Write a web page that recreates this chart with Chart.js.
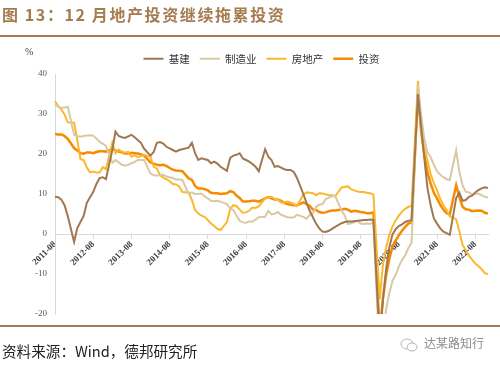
<!DOCTYPE html>
<html lang="zh">
<head>
<meta charset="UTF-8">
<title>12月地产投资继续拖累投资</title>
<script src="https://cdn.jsdelivr.net/npm/chart.js"></script>
<style>
  body { margin: 0; background: #fff; }
  #wrap { position: relative; width: 500px; height: 365px; overflow: hidden; font-family: "Noto Sans CJK SC", sans-serif; }
  #chart { position: absolute; left: 0; top: 0; }
  .title { position: absolute; left: 2px; top: 2px; font-size: 16px; font-weight: bold; color: #a57b50; letter-spacing: 1.6px; white-space: nowrap; line-height: 24px; }
  .rule { position: absolute; left: 0; width: 500px; height: 2px; background: #a57c5a; }
  .unit { position: absolute; left: 25px; top: 46px; font: 10px "Liberation Serif", serif; color: #404040; }
  .source { position: absolute; left: 2px; top: 341px; font-size: 14.6px; line-height: 20px; color: #222; white-space: nowrap; }
  .mark { position: absolute; left: 400px; top: 334px; font-size: 12px; line-height: 18px; color: #8c8c8c; white-space: nowrap; }
  .mark svg { vertical-align: middle; margin-right: 6px; }
</style>
</head>
<body>
<div id="wrap">
  <canvas id="chart" width="500" height="365"></canvas>
  <div class="title">图 13：12 月地产投资继续拖累投资</div>
  <div class="rule" style="top:35px"></div>
  <div class="unit">%</div>
  <div class="rule" style="top:325px"></div>
  <div class="source">资料来源：Wind，德邦研究所</div>
  <div class="mark"><svg width="18" height="14" viewBox="0 0 18 14"><ellipse cx="7" cy="6" rx="6" ry="5" fill="none" stroke="#b5b5b5" stroke-width="1"/><ellipse cx="12" cy="9" rx="5" ry="4" fill="#fff" stroke="#b5b5b5" stroke-width="1"/></svg>达某路知行</div>
</div>
<script>
// 月份：2011-08 至 2022-12，1月无数据（null）
const months = [];
for (let y = 2011; y <= 2022; y++) {
    for (let m = (y === 2011 ? 8 : 1); m <= 12; m++) {
        months.push(y + '-' + String(m).padStart(2, '0'));
    }
}

// 累计同比，%
const infra = [
    9.3, 9.2, 8.6, 7.2, 4.5,
    null, -2.0, 1.5, 3.0, 4.5, 7.8, 9.2, 10.5, 12.5, 14.0, 14.2, 13.7,
    null, 21.0, 25.6, 24.5, 24.2, 24.0, 24.4, 24.8, 24.2, 23.5, 22.8, 21.3,
    null, 19.6, 20.5, 22.8, 23.0, 22.6, 21.8, 21.4, 21.0, 20.6, 21.0, 21.2,
    null, 21.6, 22.8, 20.2, 18.5, 18.9, 18.7, 18.5, 17.7, 18.1, 17.6, 16.8,
    null, 15.8, 19.0, 19.6, 19.8, 20.2, 18.9, 18.5, 18.1, 17.5, 16.8, 15.7,
    null, 21.2, 19.3, 18.5, 16.8, 17.0, 16.6, 16.2, 16.0, 16.0, 15.5, 14.0,
    null, 10.0, 7.8, 5.8, 4.2, 2.6, 1.4, 0.6, 0.5, 0.8, 1.3, 1.8,
    null, 2.7, 3.0, 3.1, 3.1, 3.2, 3.3, 3.4, 3.5, 3.5, 3.6, 3.5,
    null, -26.9, -16.4, -8.8, -3.3, -0.1, 1.2, 2.0, 2.4, 3.0, 3.3, 3.4,
    null, 35.0, 26.9, 18.9, 11.4, 7.2, 3.9, 2.6, 1.4, 0.6, 0.2, -0.2,
    null, 9.0, 10.3, 8.3, 8.5, 9.3, 9.6, 10.4, 11.0, 11.4, 11.7, 11.5
];
const manufacturing = [
    32.5, 31.8, 31.5, 31.6, 31.8,
    null, 24.8, 24.5, 24.3, 24.5, 24.6, 24.7, 24.6, 23.9, 23.0, 22.6, 22.0,
    null, 17.8, 18.5, 17.9, 17.3, 17.1, 17.3, 17.7, 18.0, 18.5, 18.5, 18.5,
    null, 15.1, 14.7, 14.6, 14.7, 14.8, 14.4, 14.2, 14.0, 13.6, 13.6, 13.5,
    null, 10.0, 10.4, 10.0, 10.0, 10.1, 9.4, 8.9, 8.3, 8.2, 8.3, 8.1,
    null, 7.5, 6.4, 6.0, 4.6, 3.3, 2.9, 2.8, 3.1, 3.1, 3.6, 4.2,
    null, 4.3, 5.8, 4.9, 5.1, 5.5, 4.8, 4.5, 4.2, 4.1, 4.1, 4.8,
    null, 4.3, 3.8, 4.8, 5.2, 6.8, 7.3, 7.5, 8.7, 9.1, 9.5, 9.5,
    null, 5.9, 4.6, 2.5, 2.7, 3.0, 3.3, 2.6, 2.5, 2.6, 2.5, 3.1,
    null, -31.5, -25.2, -18.8, -14.8, -11.7, -10.2, -8.1, -6.5, -5.3, -3.5, -2.2,
    null, 37.3, 29.8, 23.8, 20.4, 19.2, 17.3, 15.7, 14.8, 14.2, 13.7, 13.5,
    null, 20.9, 15.6, 12.2, 10.6, 10.4, 9.9, 10.0, 10.1, 9.7, 9.3, 9.1
];
const realEstate = [
    33.2, 32.0, 31.1, 29.9, 27.9,
    null, 27.8, 23.5, 18.7, 18.5, 16.6, 15.4, 15.6, 15.4, 15.4, 16.7, 16.2,
    null, 22.8, 20.2, 21.1, 20.6, 20.3, 20.5, 19.3, 19.7, 19.2, 19.5, 19.8,
    null, 19.3, 16.8, 16.4, 14.7, 14.1, 13.7, 13.2, 12.5, 12.4, 11.9, 10.5,
    null, 10.4, 8.5, 6.0, 5.1, 4.6, 4.3, 3.5, 2.6, 2.0, 1.3, 1.0,
    null, 3.0, 6.2, 7.2, 7.0, 6.1, 5.3, 5.4, 5.8, 6.6, 6.5, 6.9,
    null, 8.9, 9.1, 9.3, 8.8, 8.5, 7.9, 7.9, 8.1, 7.8, 7.5, 7.0,
    null, 9.9, 10.4, 10.3, 10.2, 9.7, 10.2, 10.1, 9.9, 9.7, 9.7, 9.5,
    null, 11.6, 11.8, 11.9, 11.2, 10.9, 10.6, 10.5, 10.5, 10.3, 10.2, 9.9,
    null, -16.3, -7.7, -3.3, -0.3, 1.9, 3.4, 4.6, 5.6, 6.3, 6.8, 7.0,
    null, 38.3, 25.6, 21.6, 18.3, 15.0, 12.7, 10.9, 8.8, 7.2, 6.0, 4.4,
    null, 3.7, 0.7, -2.7, -4.0, -5.4, -6.4, -7.4, -8.0, -8.8, -9.8, -10.0
];
const investment = [
    25.0, 24.9, 24.9, 24.5, 23.8,
    null, 21.5, 20.9, 20.2, 20.1, 20.4, 20.4, 20.2, 20.5, 20.7, 20.7, 20.6,
    null, 21.2, 20.9, 20.6, 20.4, 20.1, 20.1, 20.3, 20.2, 20.1, 19.9, 19.6,
    null, 17.9, 17.6, 17.3, 17.2, 17.3, 17.0, 16.5, 16.1, 15.9, 15.8, 15.7,
    null, 13.9, 13.5, 12.0, 11.4, 11.4, 11.2, 10.9, 10.3, 10.2, 10.2, 10.0,
    null, 10.2, 10.7, 10.5, 9.6, 9.0, 8.1, 8.1, 8.2, 8.3, 8.3, 8.1,
    null, 8.9, 9.2, 8.9, 8.6, 8.6, 8.3, 7.8, 7.5, 7.3, 7.2, 7.2,
    null, 7.9, 7.5, 7.0, 6.1, 6.0, 5.5, 5.3, 5.4, 5.7, 5.9, 5.9,
    null, 6.1, 6.3, 6.1, 5.6, 5.8, 5.7, 5.5, 5.4, 5.2, 5.2, 5.4,
    null, -24.5, -16.1, -10.3, -6.3, -3.1, -1.6, -0.3, 0.8, 1.8, 2.6, 2.9,
    null, 35.0, 25.6, 19.9, 15.4, 12.6, 10.3, 8.9, 7.3, 6.1, 5.2, 4.9,
    null, 12.2, 9.3, 6.8, 6.2, 6.1, 5.7, 5.8, 5.9, 5.8, 5.3, 5.1
];

const tickFont = { family: '"Liberation Serif", serif', size: 9 };

new Chart(document.getElementById('chart'), {
    type: 'line',
    data: {
        labels: months,
        datasets: [
            { label: '基建', data: infra, borderColor: '#a07850', backgroundColor: '#a07850', borderWidth: 2 },
            { label: '制造业', data: manufacturing, borderColor: '#d9c9a3', backgroundColor: '#d9c9a3', borderWidth: 2 },
            { label: '房地产', data: realEstate, borderColor: '#fbb82c', backgroundColor: '#fbb82c', borderWidth: 2 },
            { label: '投资', data: investment, borderColor: '#f68b00', backgroundColor: '#f68b00', borderWidth: 2.5 }
        ]
    },
    options: {
        responsive: false,
        animation: false,
        spanGaps: true,
        elements: { point: { radius: 0 }, line: { tension: 0 } },
        layout: { padding: { top: 37, left: 35, right: 12, bottom: 51 } },
        plugins: {
            legend: {
                labels: {
                    usePointStyle: true,
                    pointStyle: 'line',
                    pointStyleWidth: 20,
                    padding: 10,
                    color: '#333',
                    font: { family: '"Noto Sans CJK SC", sans-serif', size: 10.5 }
                }
            },
            tooltip: { enabled: false }
        },
        scales: {
            x: {
                position: { y: 0 },
                offset: false,
                border: { color: '#d9d9d9' },
                grid: { drawOnChartArea: false, drawTicks: true, tickLength: 4, color: '#d9d9d9' },
                ticks: {
                    autoSkip: false,
                    minRotation: 45,
                    maxRotation: 45,
                    padding: 1,
                    color: '#404040',
                    font: Object.assign({ weight: 'bold' }, tickFont),
                    callback: (v, i) => (i % 12 === 0 ? months[i] : null)
                }
            },
            y: {
                min: -20,
                max: 40,
                border: { color: '#d9d9d9' },
                grid: { drawOnChartArea: false, drawTicks: false },
                ticks: { stepSize: 10, padding: 8, color: '#595959', font: tickFont },
                afterFit: (scale) => { scale.width = 20; scale.paddingTop = 74; }
            }
        }
    }
});
</script>
</body>
</html>
